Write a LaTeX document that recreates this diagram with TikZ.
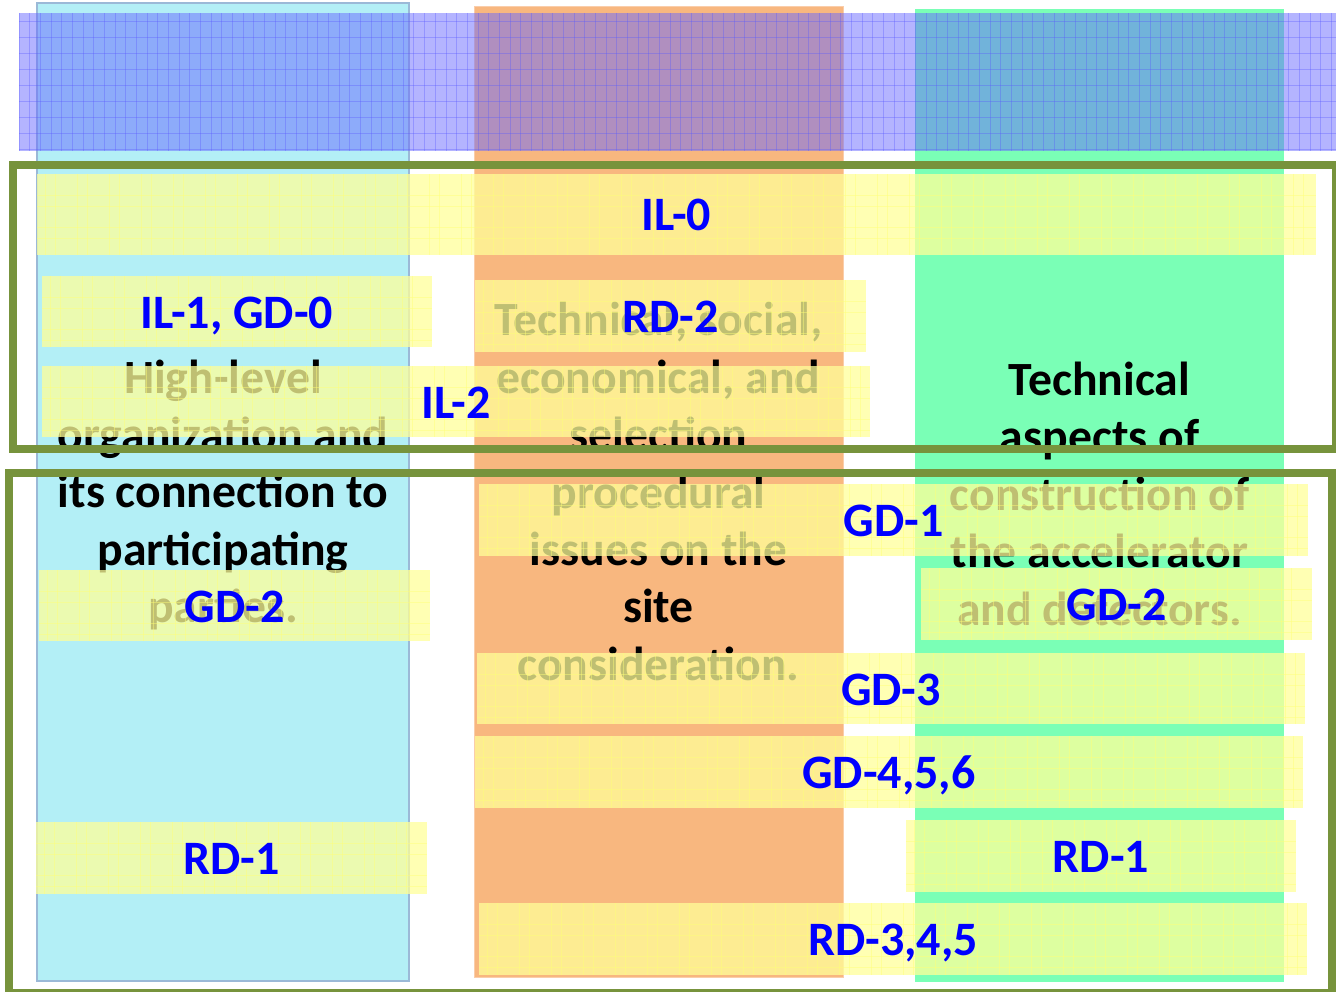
\documentclass[tikz,border=0pt]{standalone}
\usepackage{fontspec}
\setmainfont{Carlito}
\definecolor{colcyan}{RGB}{179,239,246}
\definecolor{colcyanb}{RGB}{155,185,215}
\definecolor{colorange}{RGB}{248,183,127}
\definecolor{colorangeb}{RGB}{250,205,170}
\definecolor{colgreen}{RGB}{122,255,182}
\definecolor{frameg}{RGB}{119,147,60}
\definecolor{yel}{RGB}{255,255,153}
\definecolor{yelline}{RGB}{255,255,120}
\definecolor{hatchblue}{RGB}{105,105,255}
\definecolor{hatchline}{RGB}{90,90,255}
\definecolor{labblue}{RGB}{0,0,255}
\tikzset{
  band/.style={fill=yel, fill opacity=0.75},
  gridl/.style={draw=yelline, line width=0.7pt, opacity=0.45},
  lab/.style={text=labblue, font=\fontsize{48}{56}\selectfont\bfseries, anchor=base, inner sep=0pt},
  coltext/.style={text=black, font=\fontsize{47.7}{56}\selectfont\bfseries, anchor=base, inner sep=0pt},
  frame/.style={draw=frameg, line width=8pt},
  hatch/.style={fill=hatchblue, fill opacity=0.5},
  hatchl/.style={draw=hatchline, line width=0.6pt, opacity=0.35}
}
\newcommand\yband[6]{%
  \path[band] (#1,#2) rectangle (#3,#4);
  \begin{scope}
    \clip (#1,#2) rectangle (#3,#4);
    \foreach \gx in {0,32,...,1300}{
      \draw[gridl] (#1+\gx+8,#2) -- (#1+\gx+8,#4);
      \draw[gridl] (#1+\gx+18.7,#2) -- (#1+\gx+18.7,#4);
    }
    \draw[gridl] (#1,#2+21) -- (#3,#2+21);
    \draw[gridl] (#1,#2+32) -- (#3,#2+32);
    \draw[gridl] (#1,#2+53) -- (#3,#2+53);
    \draw[gridl] (#1,#2+64) -- (#3,#2+64);
  \end{scope}
  \node[lab] (#5) at ({(#1+#3)/2},{(#2+#4)/2+16.5}) {#6};
}
\begin{document}
\begin{tikzpicture}[x=1pt,y=-1pt]
\useasboundingbox (0,0) rectangle (1336,992);
% columns
\path[fill=colcyan, draw=colcyanb, line width=1.5pt] (37,3) rectangle (409,981);
\path[fill=colorange, draw=colorangeb, line width=1pt] (474,7) rectangle (843,977);
\path[fill=colgreen] (915,9) rectangle (1284,982);
% hatched top band
\path[hatch] (19,13) rectangle (1336,151);
\begin{scope}
  \clip (19,13) rectangle (1336,151);
  \foreach \hx in {19,29.67,...,1336}{\draw[hatchl] (\hx,13) -- (\hx,151);}
  \foreach \hy in {21,37,...,151}{\draw[hatchl] (19,\hy) -- (1336,\hy);}
\end{scope}
% column texts
\foreach \t/\y [count=\i] in {High-level/393,organization and/450,its connection to/507,participating/565,parties./622}
  \node[coltext] (L\i) at (223,\y) {\t};
\foreach \t/\y [count=\i] in {{Technical, social,}/335,{economical, and}/393,selection/450,procedural/508,issues on the/565,site/622,consideration./680}
  \node[coltext] (M\i) at (658.5,\y) {\t};
\foreach \t/\y [count=\i] in {Technical/395,aspects of/452,construction of/510,the accelerator/567,and detectors./625}
  \node[coltext] (R\i) at (1099.5,\y) {\t};
% yellow bands with labels
\yband{37}{174}{1316}{255}{il0}{IL-0}
\yband{42}{276}{432}{347}{il1}{IL-1, GD-0}
\yband{475}{280}{866}{352}{rd2}{RD-2}
\yband{42}{366}{870}{437}{il2}{IL-2}
\yband{479}{484}{1308}{556}{gd1}{GD-1}
\yband{39}{570}{430}{641}{gd2l}{GD-2}
\yband{921}{568}{1312}{640}{gd2r}{GD-2}
\yband{477}{653}{1305}{724}{gd3}{GD-3}
\yband{475}{736}{1303}{808}{gd456}{GD-4,5,6}
\yband{36}{822}{427}{894}{rd1l}{RD-1}
\yband{906}{820}{1296}{892}{rd1r}{RD-1}
\yband{479}{903}{1307}{975}{rd345}{RD-3,4,5}
% frames
\draw[frame] (13,165) rectangle (1336,449);
\draw[frame] (9,473) rectangle (1332,993);
\end{tikzpicture}
\end{document}
